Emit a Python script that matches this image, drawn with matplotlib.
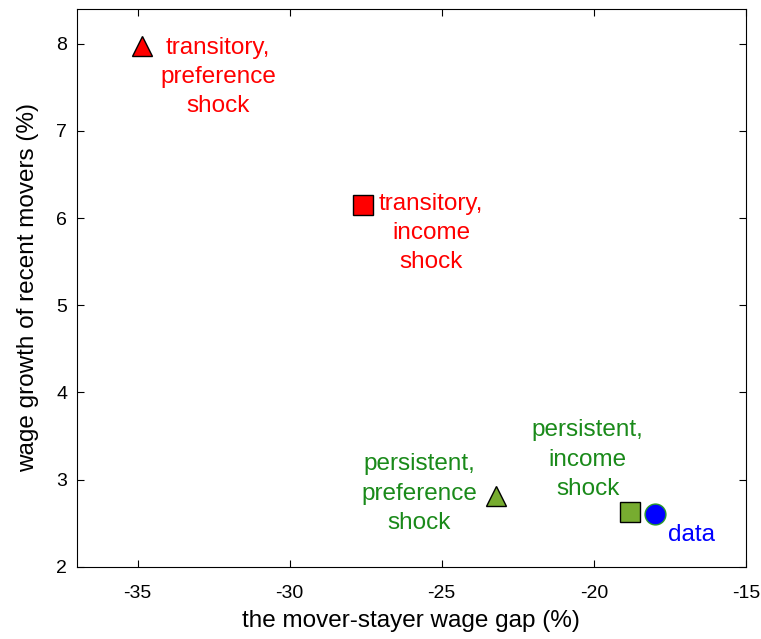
import matplotlib.pyplot as plt

plt.rcParams['font.family'] = ['Liberation Sans', 'DejaVu Sans']
plt.rcParams['axes.unicode_minus'] = False

# model points: (mover-stayer gap, wage growth)
labels = ['transitory,\npreference\nshock', 'transitory,\nincome\nshock',
          'persistent,\npreference\nshock', 'persistent,\nincome\nshock', 'data']
gap = [-34.85, -27.6, -23.2, -18.8, -18.0]
growth = [7.98, 6.15, 2.81, 2.63, 2.60]
markers = ['^', 's', '^', 's', 'o']
face = ['#ff0000', '#ff0000', '#77ac30', '#77ac30', '#0000ff']
edge = ['k', 'k', 'k', 'k', '#2a9a2a']
text_col = ['#ff0000', '#ff0000', '#1a8a1a', '#1a8a1a', '#0000ff']
text_x = [-32.35, -25.35, -25.75, -20.2, -16.8]
text_y = [7.62, 5.83, 2.84, 3.23, 2.36]

fig, ax = plt.subplots(figsize=(7.61, 6.39), dpi=100)
for i in range(len(gap)):
    ax.plot(gap[i], growth[i], marker=markers[i], ms=15, mfc=face[i],
            mec=edge[i], mew=1, ls='none')
    ax.text(text_x[i], text_y[i], labels[i], color=text_col[i], fontsize=17.5,
            ha='center', va='center', linespacing=1.42)

ax.set_xlim(-37, -15)
ax.set_ylim(2, 8.4)
ax.set_xticks([-35, -30, -25, -20, -15])
ax.set_yticks([2, 3, 4, 5, 6, 7, 8])
ax.tick_params(direction='in', top=True, right=True, labelsize=14, length=5)
ax.tick_params(axis='x', pad=13)
ax.tick_params(axis='y', pad=7)
ax.set_xlabel('the mover-stayer wage gap (%)', fontsize=17.5, labelpad=6)
ax.set_ylabel('wage growth of recent movers (%)', fontsize=17.5, labelpad=12)

fig.subplots_adjust(left=0.101, right=0.98, top=0.986, bottom=0.113)
fig.savefig('out.png')
